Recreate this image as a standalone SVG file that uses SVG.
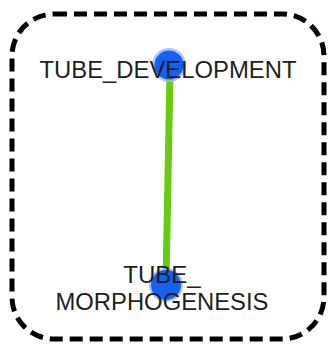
<svg xmlns="http://www.w3.org/2000/svg" width="333" height="345" viewBox="0 0 333 345">
  <style>
    .frame { fill: none; stroke: #000; stroke-width: 5; stroke-dasharray: 13 7; }
    .edge { stroke: #66cc11; stroke-width: 7; stroke-linecap: butt; }
    .halo { fill: #9fb6e6; opacity: 0.8; }
    .core { fill: #1560f5; }
    .label { font-family: "Liberation Sans", Arial, sans-serif; font-size: 24px; fill: #1e1e1e; text-anchor: middle; }
  </style>
  <rect width="333" height="345" fill="#fff"/>
  <!-- dashed cluster boundary -->
  <rect class="frame" x="12" y="14" width="312" height="325" rx="42" ry="42"/>
  <g id="connectors">
    <line class="edge" x1="170" y1="72" x2="166" y2="282"/>
  </g>
  <g id="tube_development">
    <circle class="halo" cx="169" cy="65" r="17"/>
    <circle class="core" cx="169" cy="65" r="14.5"/>
    <text class="label" x="168" y="78" textLength="257" lengthAdjust="spacingAndGlyphs">TUBE_DEVELOPMENT</text>
  </g>
  <g id="tube_morphogenesis">
    <circle class="halo" cx="166" cy="285" r="17"/>
    <circle class="core" cx="166" cy="285" r="15"/>
    <text class="label" x="162" y="283">TUBE_</text>
    <text class="label" x="162" y="310" textLength="213" lengthAdjust="spacingAndGlyphs">MORPHOGENESIS</text>
  </g>
</svg>
